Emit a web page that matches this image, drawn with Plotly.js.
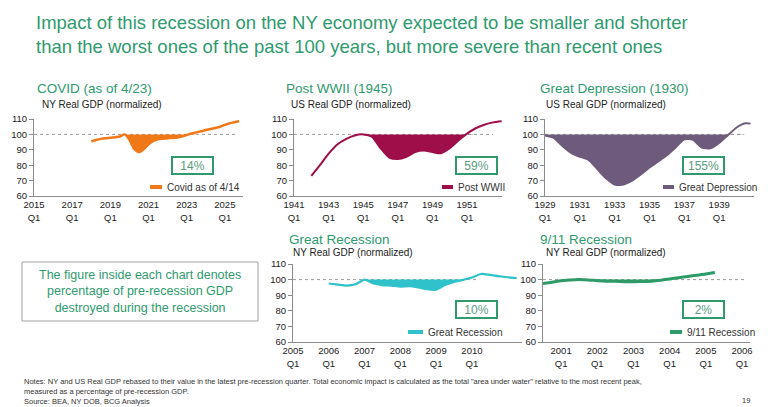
<!DOCTYPE html>
<html><head><meta charset="utf-8">
<script src="https://cdn.plot.ly/plotly-3.0.1.min.js"></script>
<style>html,body{margin:0;padding:0;background:#fff;}#chart{width:768px;height:407px;}</style>
</head><body><div id="chart"></div>
<script>
// ---------- DATA ----------
const covidX = [2018.0,2018.25,2018.5,2018.75,2019.0,2019.25,2019.5,2019.75,2020.0,2020.25,2020.5,2020.75,2021.0,2021.25,2021.5,2021.75,2022.0,2022.25,2022.5,2022.75,2023.0,2023.25,2023.5,2023.75,2024.0,2024.25,2024.5,2024.75,2025.0,2025.25,2025.5,2025.75];
const covidY = [95.5,96.4,97.1,97.5,97.8,98.2,98.6,100.0,96.5,90.5,88.5,90.5,93.5,95.8,96.8,97.2,97.5,97.7,98.0,98.6,99.6,100.6,101.3,102.0,102.8,103.5,104.2,105.0,106.2,107.2,107.9,108.5];

const wwiiX = [1942.0,1942.5,1943.0,1943.5,1944.0,1944.5,1945.0,1945.5,1946.0,1946.5,1947.0,1947.5,1948.0,1948.5,1949.0,1949.5,1950.0,1950.5,1951.0,1951.5,1952.0,1952.5,1953.0];
const wwiiY = [73.0,80.0,87.5,93.5,97.0,99.3,100.0,98.5,91.0,85.0,84.0,85.5,88.5,89.5,88.5,87.8,91.0,96.0,100.5,104.0,106.3,107.8,108.5];

const depX = [1929.0,1929.5,1930.0,1930.5,1931.0,1931.5,1932.0,1932.5,1933.0,1933.5,1934.0,1934.5,1935.0,1935.5,1936.0,1936.5,1937.0,1937.5,1938.0,1938.5,1939.0,1939.5,1940.0,1940.5,1940.8];
const depY = [99.3,97.8,92.5,88.0,85.5,83.5,77.5,71.5,67.5,67.5,70.0,74.0,78.5,82.5,86.5,91.5,96.8,96.5,91.5,91.0,94.5,99.5,104.5,107.2,107.0];

const grX = [2006.0,2006.25,2006.5,2006.75,2007.0,2007.25,2007.5,2007.75,2008.0,2008.25,2008.5,2008.75,2009.0,2009.25,2009.5,2009.75,2010.0,2010.25,2010.5,2010.75,2011.0,2011.25];
const grY = [97.5,96.8,96.2,97.0,100.0,97.5,96.5,96.2,95.5,95.8,95.0,93.8,93.5,96.5,98.5,99.8,101.3,103.6,103.0,102.2,101.5,101.0];

const nineX = [2000.5,2000.75,2001.0,2001.25,2001.5,2001.75,2002.0,2002.25,2002.5,2002.75,2003.0,2003.25,2003.5,2003.75,2004.0,2004.25,2004.5,2004.75,2005.0,2005.25];
const nineY = [97.5,98.3,99.2,99.8,100.0,99.8,99.3,99.0,98.9,98.7,98.6,98.8,99.0,99.6,100.4,101.2,102.0,102.8,103.6,104.6];

// pre-recession peak quarter (start of "area under water")
const peakX = [2019.75, 1945.0, 1929.0, 2007.0, 2001.5];

const covidTicks = [2015,2017,2019,2021,2023,2025];
const wwiiTicks = [1941,1943,1945,1947,1949,1951];
const depTicks = [1929,1931,1933,1935,1937,1939];
const grTicks = [2005,2006,2007,2008,2009,2010];
const nineTicks = [2001,2002,2003,2004,2005,2006];
const yTicks = [60,70,80,90,100,110];
const BASE = 100;

const chartTitles = ["COVID (as of 4/23)","Post WWII (1945)","Great Depression (1930)","Great Recession","9/11 Recession"];
const chartSubtitles = ["NY Real GDP (normalized)","US Real GDP (normalized)","US Real GDP (normalized)","NY Real GDP (normalized)","NY Real GDP (normalized)"];
const seriesNames = ["Covid as of 4/14","Post WWII","Great Depression","Great Recession","9/11 Recession"];
const impactPct = ["14%","59%","155%","10%","2%"];

// ---------- LAYOUT CONFIG ----------
const W = 768, H = 407;
const px = v => v / W;
const py = v => 1 - v / H;
const GREEN = '#2e9a6e';
const FONT = 'Liberation Sans, Arial, sans-serif';

const charts = [
  {x: covidX, y: covidY, ticks: covidTicks, color: '#f07818', lw: 2.5, dom: [34,243], ydom: [119,196], range: [2015,2025.95], refEnd: 2025.6,
   title: [35,88], sub: [40,104], box: [192,165.5], leg: [150,162,187]},
  {x: wwiiX, y: wwiiY, ticks: wwiiTicks, color: '#9e0f4a', lw: 2, dom: [294,502], ydom: [119,196], range: [1941,1953.02], refEnd: 1952.5,
   title: [284,88], sub: [289,104], box: [476.5,165.5], leg: [442,453,187]},
  {x: depX, y: depY, ticks: depTicks, color: '#6e5a7a', lw: 2, dom: [545,754], ydom: [119,196], range: [1929,1941.0], refEnd: 1940.4,
   title: [538,88], sub: [544,104], box: [703.5,165.5], leg: [663,674,187]},
  {x: grX, y: grY, ticks: grTicks, color: '#30c2ca', lw: 2.2, dom: [293,522], ydom: [264,342], range: [2005,2011.4], refEnd: 2010.2,
   title: [287,239], sub: [291,252], box: [476.5,309.5], leg: [408,423,332]},
  {x: nineX, y: nineY, ticks: nineTicks, color: '#2e9a68', lw: 3, dom: [543,750], ydom: [264,342], range: [2000.5,2006.22], refEnd: 2006.08,
   title: [538,239], sub: [544,252], box: [703.5,309.5], leg: [670,682,332]}
];

const data = [];
const layout = {
  width: W, height: H, margin: {l:0,r:0,t:0,b:0},
  paper_bgcolor: '#fff', plot_bgcolor: 'rgba(0,0,0,0)',
  showlegend: false, font: {family: FONT, color: '#222'},
  annotations: [], shapes: []
};

charts.forEach((c, i) => {
  const n = i === 0 ? '' : String(i + 1);
  const xa = 'x' + n, ya = 'y' + n;
  const k = c.x.indexOf(peakX[i]);
  const fx = c.x.slice(k), fy = c.y.slice(k).map(v => Math.min(v, BASE));
  // baseline (invisible) then underwater fill from the pre-recession peak
  data.push({x: fx, y: fx.map(() => BASE), xaxis: xa, yaxis: ya, mode: 'lines',
    line: {width: 0, color: c.color}, hoverinfo: 'skip', showlegend: false});
  data.push({x: fx, y: fy, xaxis: xa, yaxis: ya, mode: 'lines',
    fill: 'tonexty', fillcolor: c.color, line: {width: 0, color: c.color, shape: 'spline', smoothing: 0.6},
    hoverinfo: 'skip', showlegend: false});
  data.push({x: c.x, y: c.y, xaxis: xa, yaxis: ya, mode: 'lines', name: seriesNames[i],
    line: {width: c.lw, color: c.color, shape: 'spline', smoothing: 0.6}});

  layout['xaxis' + n] = {
    domain: [px(c.dom[0]), px(c.dom[1])], range: c.range, anchor: ya,
    tickvals: c.ticks, ticktext: c.ticks.map(t => t + '<br>Q1'),
    showline: true, linecolor: '#8c8c8c', linewidth: 1, showgrid: false, zeroline: false,
    ticks: '', tickfont: {size: 9.5, color: '#222', family: FONT}, fixedrange: true
  };
  layout['yaxis' + n] = {
    domain: [py(c.ydom[1]), py(c.ydom[0])], range: [60, 110], anchor: xa,
    tickvals: yTicks, showline: true, linecolor: '#8c8c8c', linewidth: 1, showgrid: false, zeroline: false,
    ticks: 'outside', ticklen: 4, tickcolor: '#8c8c8c', tickfont: {size: 9.5, color: '#222', family: FONT}, fixedrange: true
  };
  // dotted 100 reference line
  layout.shapes.push({type: 'line', xref: xa, yref: ya, x0: c.range[0], x1: c.refEnd, y0: BASE, y1: BASE,
    line: {color: '#9a9a9a', width: 1, dash: 'dot'}, layer: 'below'});
  // legend swatch
  layout.shapes.push({type: 'line', xref: 'paper', yref: 'paper', x0: px(c.leg[0]), x1: px(c.leg[1]), y0: py(c.leg[2]), y1: py(c.leg[2]),
    line: {color: c.color, width: 4}});
  layout.annotations.push({xref: 'paper', yref: 'paper', x: px(c.leg[1] + 3), y: py(c.leg[2]), xanchor: 'left', yanchor: 'middle',
    text: seriesNames[i], showarrow: false, font: {size: 10, color: '#333', family: FONT}});
  // chart title and subtitle
  layout.annotations.push({xref: 'paper', yref: 'paper', x: px(c.title[0]), y: py(c.title[1]), xanchor: 'left', yanchor: 'middle',
    text: chartTitles[i], showarrow: false, font: {size: 13.5, color: GREEN, family: FONT}});
  layout.annotations.push({xref: 'paper', yref: 'paper', x: px(c.sub[0]), y: py(c.sub[1]), xanchor: 'left', yanchor: 'middle',
    text: chartSubtitles[i], showarrow: false, font: {size: 10, color: '#222', family: FONT}});
  // percentage box
  layout.annotations.push({xref: 'paper', yref: 'paper', x: px(c.box[0]), y: py(c.box[1]), xanchor: 'center', yanchor: 'middle',
    text: impactPct[i], showarrow: false, width: 37, height: 13, bgcolor: '#fff', bordercolor: GREEN, borderwidth: 2, borderpad: 1,
    font: {size: 12, color: '#5a9c80', family: FONT}});
});

// main title
layout.annotations.push({xref: 'paper', yref: 'paper', x: px(34), y: py(34), xanchor: 'left', yanchor: 'middle', align: 'left',
  text: 'Impact of this recession on the NY economy expected to be smaller and shorter<br>than the worst ones of the past 100 years, but more severe than recent ones',
  showarrow: false, font: {size: 18.5, color: GREEN, family: FONT}});
// explanatory box
layout.shapes.push({type: 'rect', xref: 'paper', yref: 'paper', x0: px(22), x1: px(258), y0: py(262), y1: py(321),
  line: {color: '#a0a0a0', width: 1}, fillcolor: 'rgba(0,0,0,0)'});
layout.annotations.push({xref: 'paper', yref: 'paper', x: px(140), y: py(291.5), xanchor: 'center', yanchor: 'middle', align: 'center',
  text: 'The figure inside each chart denotes<br>percentage of pre-recession GDP<br>destroyed during the recession',
  showarrow: false, font: {size: 12.5, color: GREEN, family: FONT}});
// notes
layout.annotations.push({xref: 'paper', yref: 'paper', x: px(22), y: py(391), xanchor: 'left', yanchor: 'middle', align: 'left',
  text: 'Notes: NY and US Real GDP rebased to their value in the latest pre-recession quarter. Total economic impact is calculated as the total "area under water" relative to the most recent peak,<br>measured as a percentage of pre-recession GDP.<br>Source: BEA, NY DOB, BCG Analysis',
  showarrow: false, font: {size: 7.5, color: '#333', family: FONT}});
layout.annotations.push({xref: 'paper', yref: 'paper', x: px(752), y: py(400), xanchor: 'right', yanchor: 'middle',
  text: '19', showarrow: false, font: {size: 7.5, color: '#333', family: FONT}});

Plotly.newPlot('chart', data, layout, {staticPlot: true, displayModeBar: false});
</script></body></html>
